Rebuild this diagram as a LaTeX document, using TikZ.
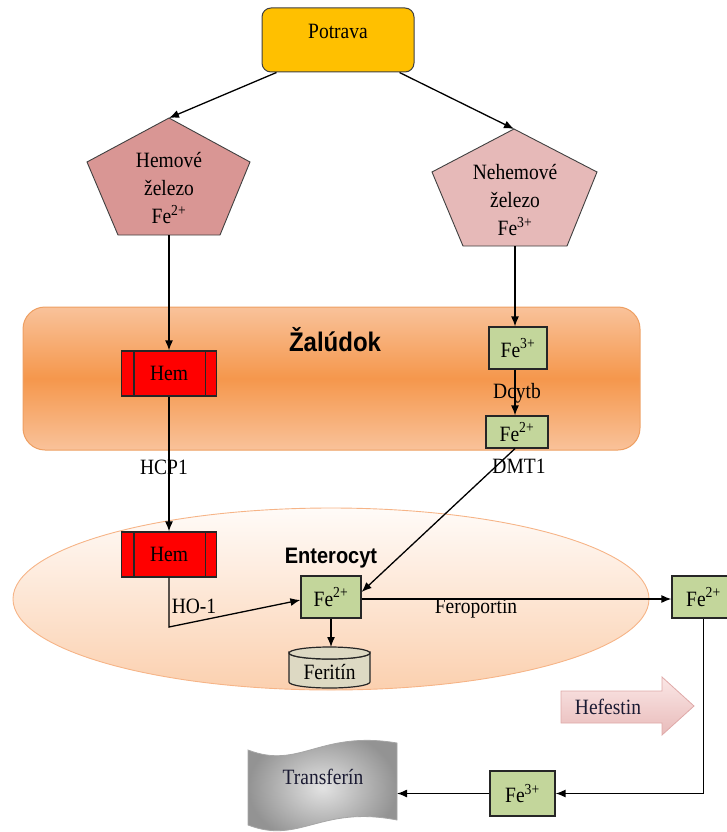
\documentclass[tikz,border=0pt]{standalone}
\usepackage{fontspec}
\setmainfont{Liberation Serif}
\newfontfamily\hdfont{Liberation Sans}
\usetikzlibrary{arrows.meta,shapes.geometric}
\definecolor{potr}{HTML}{FFC000}
\definecolor{hemc}{HTML}{D99694}
\definecolor{nehc}{HTML}{E6B9B8}
\definecolor{grn}{HTML}{C3D69B}
\definecolor{ferc}{HTML}{DDD9C3}
\definecolor{stoml}{HTML}{F9C29A}
\definecolor{stomd}{HTML}{F5974C}
\definecolor{stomb}{HTML}{EE9F62}
\definecolor{entt}{HTML}{FFFBF8}
\definecolor{entbot}{HTML}{FBD0AF}
\definecolor{entb}{HTML}{F6B487}
\definecolor{heft}{HTML}{FBE7E6}
\definecolor{hefb}{HTML}{E8BBBA}
\definecolor{hefd}{HTML}{DFA9A8}
\definecolor{navy}{HTML}{1B1B33}
\newcommand\stt[1]{\scalebox{1}[1.12]{#1}}
\begin{document}
\begin{tikzpicture}[x=1pt,y=-1pt,
  font=\fontsize{19.5}{24}\selectfont,
  conn/.style={line width=1.3pt, draw=black},
  arr/.style={conn,-{Latex[length=10pt,width=8pt]}},
  box/.style={draw=black!85, line width=1.2pt, inner sep=0pt},
  greenbox/.style={box, fill=grn},
  hembox/.style={box, fill=red, minimum width=95pt, minimum height=45pt},
  pent/.style={draw=black!75, line width=0.9pt},
  lbl/.style={inner sep=0pt}]
\useasboundingbox (0,0) rectangle (727,832);

% background regions
\node[draw=stomb, line width=1pt, rounded corners=22pt, top color=stoml, bottom color=stoml, middle color=stomd,
      minimum width=617pt, minimum height=143pt, inner sep=0pt] (stomach) at (331.5,378.5) {};
\node[lbl, font=\hdfont\bfseries\fontsize{24}{28}\selectfont] (zal) at (335,340) {\stt{Žalúdok}};
\node[ellipse, draw=entb, line width=0.9pt, top color=entt, bottom color=entbot,
      minimum width=636pt, minimum height=182pt, inner sep=0pt] (entero) at (331,599) {};
\node[lbl, font=\hdfont\bfseries\fontsize{20}{24}\selectfont] (entlbl) at (331,558) {\stt{Enterocyt}};

% Potrava
\node[draw=black!75, line width=1pt, rounded corners=9pt, fill=potr, minimum width=152pt, minimum height=64pt] (potrava) at (338,40) {};
\node[lbl] (potravat) at (338,31) {\stt{Potrava}};

% pentagons
\coordinate (hpT) at (169,118);
\coordinate (hpB) at (169,235);
\draw[pent, fill=hemc] (hpT) -- (250,162) -- (220,235) -- (118,235) -- (87,162) -- cycle;
\node[lbl, align=center, font=\fontsize{19.5}{28}\selectfont] (hemove) at (169,188) {\stt{Hemové}\\\stt{železo}\\\stt{Fe\textsuperscript{2+}}};
\coordinate (npT) at (514,129);
\coordinate (npB) at (515,246);
\draw[pent, fill=nehc] (npT) -- (597,172) -- (567,246) -- (463,246) -- (432,172) -- cycle;
\node[lbl, align=center, font=\fontsize{19.5}{28}\selectfont] (nehemove) at (515,200) {\stt{Nehemové}\\\stt{železo}\\\stt{Fe\textsuperscript{3+}}};

% boxes
\node[hembox] (hem1) at (169,373.5) {\stt{Hem}};
\node[hembox] (hem2) at (169,554.5) {\stt{Hem}};
\foreach \h in {hem1,hem2}{
  \draw[box] ([xshift=13pt]\h.north west) -- ([xshift=13pt]\h.south west);
  \draw[box] ([xshift=-12pt]\h.north east) -- ([xshift=-12pt]\h.south east);
}
\node[greenbox, minimum width=58pt, minimum height=42pt] (fe3a) at (518,348) {\stt{Fe\textsuperscript{3+}}};
\node[greenbox, minimum width=62pt, minimum height=32pt] (fe2a) at (517,432) {\stt{Fe\textsuperscript{2+}}};
\node[greenbox, minimum width=60pt, minimum height=42pt] (fe2b) at (331,597) {\stt{Fe\textsuperscript{2+}}};
\node[greenbox, minimum width=63pt, minimum height=42pt] (fe2c) at (703.5,597) {\stt{Fe\textsuperscript{2+}}};
\node[greenbox, minimum width=65pt, minimum height=45pt] (fe3b) at (522.5,793.5) {\stt{Fe\textsuperscript{3+}}};

% Feritin cylinder
\coordinate (ferTop) at (331,647);
\draw[box, fill=ferc] (289,653) -- (289,682) arc[start angle=180, end angle=0, x radius=40.5, y radius=6]
   -- (370,653) arc[start angle=0, end angle=180, x radius=40.5, y radius=6] -- cycle;
\draw[box, fill=ferc] (329.5,653) ellipse [x radius=40.5, y radius=6];
\node[lbl] (feritin) at (329.5,672) {\stt{Feritín}};

% Hefestin arrow
\draw[draw=hefd, line width=0.8pt, top color=heft, bottom color=hefb]
  (561,691) -- (662,691) -- (662,677) -- (694,706) -- (662,735) -- (662,723) -- (561,723) -- cycle;
\node[lbl, text=navy] (hefestin) at (608,707) {\stt{Hefestin}};

% Transferin tape
\coordinate (trR) at (397,793.5);
\draw[draw=gray!70, line width=0.8pt, inner color=gray!22, outer color=gray!85, shading=radial]
  (248,750) .. controls (300,770) and (320,730) .. (397,743) -- (397,820)
  .. controls (320,805) and (300,845) .. (248,825) -- cycle;
\node[lbl, text=navy] (transferin) at (323,777) {\stt{Transferín}};

% connectors
\draw[arr] ([xshift=15pt]potrava.south west) -- (hpT);
\draw[arr] ([xshift=-15pt]potrava.south east) -- (npT);
\draw[arr] (hpB) -- (hem1.north);
\draw[arr] (npB) -- (npB |- fe3a.north);
\draw[arr] (fe3a.south -| npB) -- (fe2a.north -| npB);
\draw[arr] (hem1.south) -- (hem2.north);
\draw[arr] (fe2a.south -| npB) -- ([yshift=5pt]fe2b.east);
\coordinate (hoC) at (169,627);
\draw[arr] (hem2.south) -- (hoC) -- ([yshift=-3pt]fe2b.west);
\draw[arr] ([yshift=-2pt]fe2b.east) -- ([yshift=-2pt]fe2c.west);
\draw[arr] (fe2b.south) -- (ferTop);
\draw[arr] (fe2c.south) -- (fe2c.south |- fe3b.east) -- (fe3b.east);
\draw[arr] (fe3b.west) -- (trR);

% labels
\node[lbl] (dcytb) at (517,393) {\stt{Dcytb}};
\node[lbl] (hcp) at (164,467) {\stt{HCP1}};
\node[lbl] (dmt) at (519,466) {\stt{DMT1}};
\node[lbl] (ho) at (194,606) {\stt{HO-1}};
\node[lbl] (ferop) at (476,609) {\stt{Feroportin}};
\end{tikzpicture}
\end{document}
